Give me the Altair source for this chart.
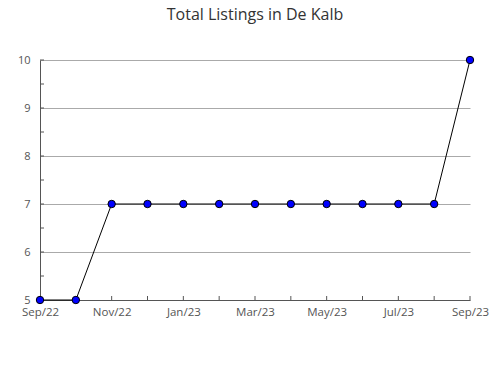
import altair as alt
import pandas as pd

months = ["Sep/22", "Oct/22", "Nov/22", "Dec/22", "Jan/23", "Feb/23", "Mar/23",
          "Apr/23", "May/23", "Jun/23", "Jul/23", "Aug/23", "Sep/23"]
listings = [5, 5, 7, 7, 7, 7, 7, 7, 7, 7, 7, 7, 10]
shown_months = ["Sep/22", "Nov/22", "Jan/23", "Mar/23", "May/23", "Jul/23", "Sep/23"]
y_labels = [5, 6, 7, 8, 9, 10]
y_minor = [5, 5.5, 6, 6.5, 7, 7.5, 8, 8.5, 9, 9.5, 10]

df = pd.DataFrame({"month": months, "value": listings})
df_y = pd.DataFrame({"v": y_minor})

W, H = 430, 240
FONT = "Open Sans"
AX = "#555555"

shown_js = "[" + ",".join("'" + m + "'" for m in shown_months) + "]"

x_enc = alt.X("month:O", sort=months,
              scale=alt.Scale(type="point", domain=months, padding=0),
              axis=alt.Axis(title=None, ticks=False, domainColor=AX, labelAngle=0,
                            labelFont=FONT, labelFontSize=11.5, labelColor=AX,
                            labelPadding=6,
                            labelExpr="indexof(" + shown_js + ", datum.value) >= 0 ? datum.value : ''"))
y_scale = alt.Scale(domain=[5, 10], nice=False, zero=False)
y_enc = alt.Y("value:Q", scale=y_scale,
              axis=alt.Axis(title=None, values=y_labels, ticks=False, domainColor=AX,
                            grid=True, gridColor="#aaaaaa", labelFont=FONT,
                            labelFontSize=11, labelColor=AX, labelPadding=10))

base = alt.Chart(df)
line = base.mark_line(color="black", strokeWidth=1).encode(x=x_enc, y=y_enc)
pts = base.mark_point(filled=True, fill="#0000ff", stroke="black", strokeWidth=1,
                      size=55, opacity=1, shape="circle").encode(x=x_enc, y=y_enc)

xticks = alt.Chart(df).mark_rule(color=AX, strokeWidth=1).encode(
    x=alt.X("month:O", sort=months), y=alt.value(H - 4), y2=alt.value(H))
yticks = alt.Chart(df_y).mark_rule(color=AX, strokeWidth=1).encode(
    y=alt.Y("v:Q", scale=y_scale), x=alt.value(0), x2=alt.value(4))

chart = alt.layer(line, xticks, yticks, pts).properties(
    width=W, height=H,
    title=alt.TitleParams("Total Listings in De Kalb", font=FONT, fontSize=16,
                          fontWeight="normal", color="#333333", offset=31),
    autosize=alt.AutoSizeParams(type="none"),
    padding={"left": 40, "top": 60, "right": 20, "bottom": 80},
).configure_view(stroke=None)

chart.save("out.html", embed_options={"renderer": "svg", "actions": False})
